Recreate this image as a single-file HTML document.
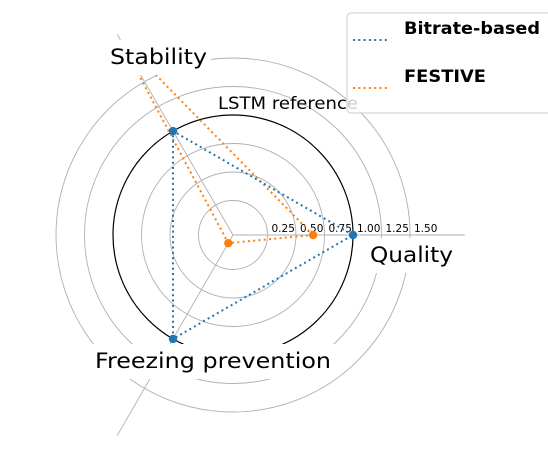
<!DOCTYPE html>
<html><head><meta charset="utf-8"><style>
body{margin:0;background:#fff;}
svg{display:block;font-family:"DejaVu Sans","Liberation Sans",sans-serif;}
</style></head><body>
<svg id="chart" width="548" height="469" viewBox="0 0 548 469">
<defs><clipPath id="pc"><circle cx="233" cy="235" r="190"/></clipPath></defs>
<g id="grid"></g>
<g id="series" clip-path="url(#pc)"></g>
<g id="labels"></g>
<text x="218" y="109" font-size="17" textLength="140" lengthAdjust="spacingAndGlyphs">LSTM reference</text>
<g>
<rect x="347" y="13" width="205" height="100" rx="4" fill="#fff" fill-opacity="0.8" stroke="#ccc"/>
<line x1="353" y1="40" x2="388" y2="40" stroke="#1f77b4" stroke-width="2" stroke-dasharray="2,3.3"/>
<text x="404" y="34" font-size="17" font-weight="bold" textLength="136" lengthAdjust="spacingAndGlyphs">Bitrate-based</text>
<line x1="353" y1="88" x2="388" y2="88" stroke="#ff7f0e" stroke-width="2" stroke-dasharray="2,3.3"/>
<text x="404" y="82" font-size="17" font-weight="bold" textLength="82" lengthAdjust="spacingAndGlyphs">FESTIVE</text>
</g>
</svg>
<script>
const categories = ["Quality", "Stability", "Freezing prevention"];
const bitrateValues = [1.0, 1.0, 1.0];
const festiveValues = [0.65, 1.95, 0.03];
const ringValues = [0.25, 0.5, 0.75, 1.0, 1.25, 1.5];
const tickLabels = ["0.25", "0.50", "0.75", "1.00", "1.25", "1.50"];

const NS = "http://www.w3.org/2000/svg";
const cx = 233, cy = 235;
function r(v){ return 6 + 114 * v; }
function ang(i){ return i * 2 * Math.PI / categories.length; }
function pt(i, v){ const a = ang(i); return [cx + r(v) * Math.cos(a), cy - r(v) * Math.sin(a)]; }
function mk(tag, attrs, parent){ const e = document.createElementNS(NS, tag); for (const k in attrs) e.setAttribute(k, attrs[k]); parent.appendChild(e); return e; }

const grid = document.getElementById("grid");
ringValues.forEach((v, k) => {
  const c = mk("circle", {cx: cx, cy: cy, r: r(v), fill: "none", stroke: v === 1 ? "#000" : "#b0b0b0", "stroke-width": v === 1 ? 1.2 : 0.9}, grid);
  
  
  const t = mk("text", {x: cx + r(v) + 4, y: cy - 3, "font-size": 10.5}, grid);
  t.textContent = tickLabels[k];
  
  
});
categories.forEach((c, i) => {
  const p = pt(i, 1.98);
  const l = mk("line", {x1: cx, y1: cy, x2: p[0], y2: p[1], stroke: "#b0b0b0", "stroke-width": 0.9}, grid);
  
  
});

const series = document.getElementById("series");
function drawSeries(vals, color, name){
  const pts = vals.map((v, i) => pt(i, v));
  const poly = mk("polygon", {points: pts.map(p => p.join(",")).join(" "), fill: "none", stroke: color, "stroke-width": 2, "stroke-dasharray": "2,3.3"}, series);
  
  
  pts.forEach(p => {
    const m = mk("circle", {cx: p[0], cy: p[1], r: 4.2, fill: color}, series);
    
    
  });
}
drawSeries(festiveValues, "#ff7f0e", "festive");
drawSeries(bitrateValues, "#1f77b4", "bitrate-based");

const labels = document.getElementById("labels");
const labelPos = [[370, 262, 83, "quality"], [110, 64, 97, "stability"], [95, 368, 236, "freezing-prevention"]];
categories.forEach((c, i) => {
  const [x, y, w, n] = labelPos[i];
  const b = mk("rect", {x: x - 4, y: y - 24, width: w + 8, height: 35, fill: "#fff"}, labels);
  
  
  const t = mk("text", {x: x, y: y, "font-size": 21, textLength: w, lengthAdjust: "spacingAndGlyphs"}, labels);
  t.textContent = c;
  
  
});
</script>
</body></html>
